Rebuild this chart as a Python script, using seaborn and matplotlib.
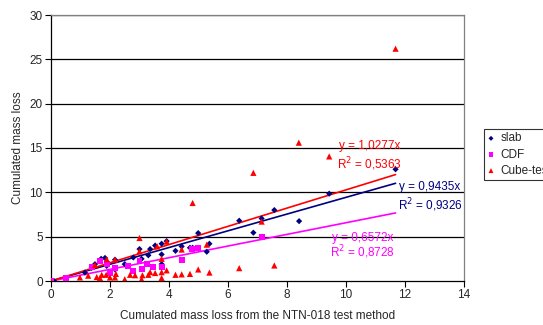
import numpy as np
import pandas as pd
import matplotlib
matplotlib.use('Agg')
import matplotlib.pyplot as plt
import seaborn as sns

# data
slab_x = [0.0, 0.1, 0.5, 1.15, 1.38, 1.49, 1.66, 1.7, 1.83, 1.89, 2.17, 2.17, 2.5, 2.79, 3.0,
          3.07, 3.3, 3.36, 3.53, 3.75, 3.75, 3.75, 3.92, 4.22, 4.43, 4.71, 4.8, 4.99, 5.28,
          5.37, 6.38, 6.86, 7.14, 7.57, 8.41, 9.43, 11.68]
slab_y = [0.0, 0.0, 0.2, 0.95, 1.5, 1.9, 2.3, 2.5, 2.6, 1.7, 2.4, 1.3, 1.9, 2.65, 3.6,
          2.5, 2.9, 3.6, 4.0, 3.0, 1.9, 4.2, 4.5, 3.4, 3.9, 3.75, 3.75, 5.4, 3.3,
          4.2, 6.8, 5.45, 7.05, 8.0, 6.75, 9.85, 12.6]

cdf_x = [0.0, 0.5, 1.4, 1.66, 1.9, 2.0, 2.17, 2.6, 2.79, 3.0, 3.07, 3.24, 3.47, 3.75,
         4.43, 4.79, 4.99, 7.14]
cdf_y = [0.0, 0.3, 1.6, 2.3, 1.9, 0.95, 1.5, 1.7, 1.1, 2.3, 1.35, 1.9, 1.6, 1.6,
         2.4, 3.6, 3.7, 5.0]

cube_x = [0.0, 0.98, 1.26, 1.49, 1.55, 1.66, 1.72, 1.87, 1.89, 2.0, 2.17, 2.17, 2.2, 2.5,
          2.68, 2.85, 3.0, 3.0, 3.07, 3.1, 3.3, 3.36, 3.53, 3.6, 3.75, 3.75, 3.75, 3.92,
          3.92, 4.22, 4.43, 4.43, 4.71, 4.8, 4.99, 5.37, 5.28, 6.38, 6.86, 7.14, 7.57,
          8.4, 9.43, 11.68]
cube_y = [0.0, 0.4, 0.6, 1.8, 0.45, 0.35, 0.7, 0.7, 2.45, 0.4, 2.4, 0.4, 0.8, 0.2,
          0.7, 0.65, 4.85, 3.35, 0.2, 0.65, 0.7, 1.0, 0.9, 3.9, 2.5, 1.0, 0.35, 1.2,
          4.45, 0.7, 0.75, 3.55, 0.8, 8.8, 1.3, 0.95, 4.1, 1.45, 12.2, 6.7, 1.75,
          15.6, 14.05, 26.2]

series = ['slab', 'CDF', 'Cube-test']
colors = ['#000080', '#FF00FF', '#FF0000']
slopes = [0.9435, 0.6572, 1.0277]
r2 = ['0,9326', '0,8728', '0,5363']
label_pos = [(12.85, 10.6, 8.5), (10.55, 4.9, 3.2), (10.8, 15.2, 13.2)]

df = pd.concat([
    pd.DataFrame({'x': slab_x, 'y': slab_y, 'serie': 'slab'}),
    pd.DataFrame({'x': cdf_x, 'y': cdf_y, 'serie': 'CDF'}),
    pd.DataFrame({'x': cube_x, 'y': cube_y, 'serie': 'Cube-test'}),
])

sns.set_style('white')
plt.rcParams['font.family'] = ['Liberation Sans', 'DejaVu Sans']

fig = plt.figure(figsize=(5.43, 3.25), dpi=100)
ax = fig.add_axes([51 / 543, 1 - 281 / 325, 413 / 543, 266 / 325])

palette = dict(zip(series, colors))
markers = {'slab': 'D', 'CDF': 's', 'Cube-test': '^'}
sizes = {'slab': 10, 'CDF': 18, 'Cube-test': 20}
for s in series:
    sub = df[df['serie'] == s]
    sns.scatterplot(data=sub, x='x', y='y', color=palette[s], marker=markers[s],
                    s=sizes[s], edgecolor='none', ax=ax, label=s, zorder=3)

# trend lines y = a*x through origin
xmax = df['x'].max()
for s, c, a, r, (tx, ty1, ty2) in zip(series, colors, slopes, r2, label_pos):
    xs = np.array([0, xmax])
    ax.plot(xs, a * xs, color=c, lw=1.2, zorder=2)
    ax.text(tx, ty1, 'y = ' + f'{a:.4f}'.replace('.', ',') + 'x', color=c,
            fontsize=8.5, ha='center', va='center', zorder=4)
    ax.text(tx, ty2, 'R$^2$ = ' + r, color=c, fontsize=8.5, ha='center', va='center', zorder=4)

ax.set_xlim(0, 14)
ax.set_ylim(0, 30)
ax.set_xticks(range(0, 15, 2))
ax.set_yticks(range(0, 31, 5))
for yv in range(5, 31, 5):
    ax.axhline(yv, color='black', lw=0.9, zorder=1)
ax.tick_params(axis='both', direction='out', length=4, width=0.8, color='black',
               labelsize=8.5, bottom=True, left=True, pad=2)
ax.spines['left'].set_color('black')
ax.spines['bottom'].set_color('black')
ax.spines['right'].set_color('#808080')
ax.spines['top'].set_color('#808080')
for sp in ax.spines.values():
    sp.set_linewidth(0.9)

ax.set_xlabel('Cumulated mass loss from the NTN-018 test method', fontsize=8.5, labelpad=6)
ax.set_ylabel('Cumulated mass loss', fontsize=8.5, labelpad=4)

leg = ax.legend(loc='upper left', bbox_to_anchor=(478 / 543, 1 - 123 / 325),
                bbox_transform=fig.transFigure, fontsize=8.5, frameon=True,
                fancybox=False, edgecolor='black', handlelength=0.6, handletextpad=0.5,
                borderpad=0.3, labelspacing=0.35, markerscale=0.8)
leg.get_frame().set_linewidth(0.8)

fig.savefig('out.png', dpi=100)
